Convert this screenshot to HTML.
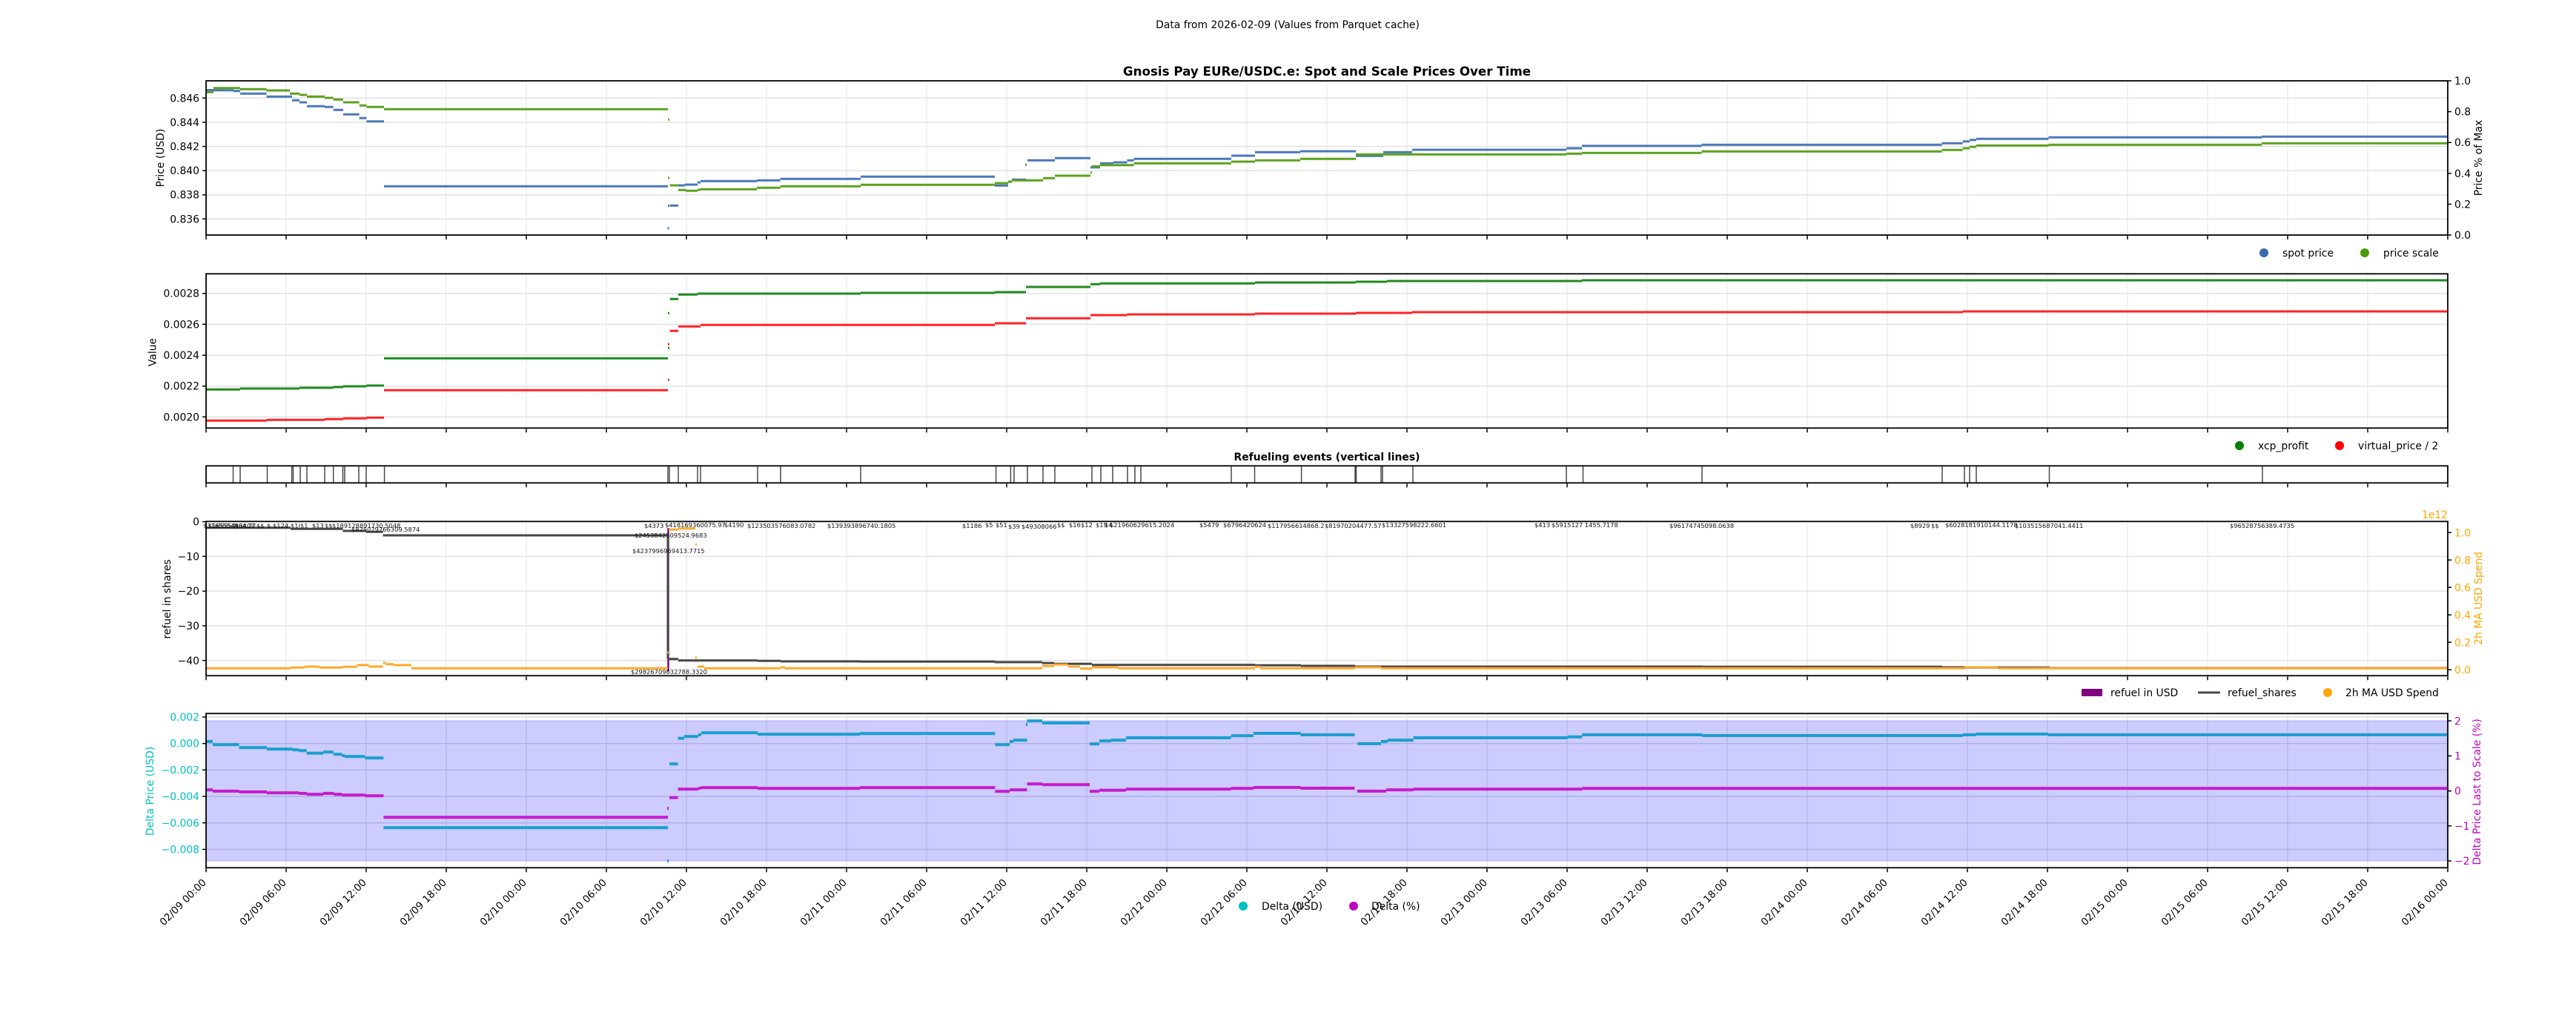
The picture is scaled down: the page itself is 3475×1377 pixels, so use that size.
<!DOCTYPE html>
<html><head><meta charset="utf-8"><style>
html,body{margin:0;padding:0;background:#fff;}
svg{display:block;font-family:"DejaVu Sans","Liberation Sans",sans-serif;}
.tl{font-size:13.9px;fill:#000;}
.an{font-size:8.3px;fill:#111;}
</style></head><body>
<svg width="3475" height="1377" viewBox="0 0 3475 1377" xmlns="http://www.w3.org/2000/svg">
<defs>
<pattern id="vg" x="277.5" y="0" width="108" height="20" patternUnits="userSpaceOnUse"><rect x="0" y="0" width="1" height="20" fill="#e4e4e4"/></pattern>
<pattern id="vg4" x="277.5" y="0" width="108" height="20" patternUnits="userSpaceOnUse"><rect x="0" y="0" width="1" height="20" fill="#dedede"/></pattern>
<pattern id="tk" x="277.25" y="0" width="108" height="20" patternUnits="userSpaceOnUse"><rect x="0" y="0" width="1.5" height="20" fill="#000"/></pattern>
</defs>
<rect width="3475" height="1377" fill="#fff"/>

<!-- titles -->
<text x="1737" y="38" text-anchor="middle" style="font-size:13.9px">Data from 2026-02-09 (Values from Parquet cache)</text>
<text x="1790" y="102" text-anchor="middle" style="font-size:16.7px;font-weight:bold">Gnosis Pay EURe/USDC.e: Spot and Scale Prices Over Time</text>
<text x="1790" y="621" text-anchor="middle" style="font-size:13.9px;font-weight:bold">Refueling events (vertical lines)</text>

<!-- ================= PANEL 1 ================= -->
<rect x="278" y="109" width="3024" height="208" fill="url(#vg)"/>
<path d="M278 132.3H3302M278 164.9H3302M278 197.5H3302M278 230.1H3302M278 262.7H3302M278 295.3H3302" stroke="#e2e2e2" stroke-width="1.5"/>
<path fill="none" stroke="#4a78b8" stroke-width="3" d="M278 121.5H288M288 121.7H315M315 122.7H324M324 126.3H359.5M359.5 130.3H394M394 135.3H404M404 138H414M414 143.3H438M438 144.3H449.7M449.7 148.3H463M463 154.3H484.7M484.7 159.3H494.4M494.4 163.7H518M518 251.3H901M903.7 277.3H915M915 250H924M924 249H941M941 246H945M945 244.3H1021M1021 243.3H1052.6M1052.6 241.3H1161M1161 238.3H1342M1342 250.3H1360M1360 245H1365M1365 242.3H1384M1386 216.3H1423M1423 213.3H1471M1471 225.7H1484M1484 220.3H1501.6M1501.6 219H1520.5M1520.5 216.3H1529.6M1529.6 214.3H1661M1661 210H1693M1693 205.3H1754M1754 204H1829M1829 210.3H1866M1866 205.3H1905M1905 202H2113M2113 200H2134M2134 196.7H2295.5M2295.5 195.3H2619.6M2619.6 193.3H2647.7M2647.7 190.7H2657M2657 188.7H2666M2666 187.3H2763.4M2763.4 185.3H3051M3051 184.3H3302M900.5 307.7H902.5M901 277.5H903M1383 222.3H1385"/>
<path fill="none" stroke="#5ca11e" stroke-width="3" d="M278 124.3H288M288 118.7H324M324 120.3H359.5M359.5 122H391M391 126.3H404M404 128H414M414 130.3H438M438 132H449.7M449.7 134.3H463M463 138H484.7M484.7 142.3H494.4M494.4 144.3H518M518 147.3H901M903.7 250H915M915 256.3H925M925 257.3H941M941 256H945M945 255.3H1021M1021 253.3H1052.6M1052.6 251.3H1161M1161 249.3H1342M1342 247H1360M1360 245.3H1365M1365 243.3H1407M1407 240.3H1423M1423 237H1471M1473 224.3H1484M1484 222.7H1529.6M1529.6 220.3H1661M1661 218H1693M1693 216.3H1754M1754 214.3H1829M1829 208.3H2113M2113 207.3H2134M2134 206.3H2295.5M2295.5 204.3H2619.6M2619.6 202.3H2647.7M2647.7 200H2657M2657 198H2666M2666 196.3H2763.4M2763.4 195.3H3051M3051 193.3H3302M901 161.3H903M901 240H903M1471 232.7H1473"/>
<rect x="278" y="109" width="3024" height="208" fill="none" stroke="#000" stroke-width="1.8"/>
<rect x="277" y="318" width="3027" height="5" fill="url(#tk)"/>
<path d="M273 132.3H278M273 164.9H278M273 197.5H278M273 230.1H278M273 262.7H278M273 295.3H278M3302 109H3307M3302 150.6H3307M3302 192.2H3307M3302 233.8H3307M3302 275.4H3307M3302 317H3307" stroke="#000" stroke-width="1.5"/>
<g class="tl" text-anchor="end">
<text x="269" y="137.3">0.846</text><text x="269" y="169.9">0.844</text><text x="269" y="202.5">0.842</text><text x="269" y="235.1">0.840</text><text x="269" y="267.7">0.838</text><text x="269" y="300.3">0.836</text>
</g>
<g class="tl">
<text x="3311" y="114">1.0</text><text x="3311" y="155.6">0.8</text><text x="3311" y="197.2">0.6</text><text x="3311" y="238.8">0.4</text><text x="3311" y="280.4">0.2</text><text x="3311" y="322">0.0</text>
</g>
<text class="tl" transform="translate(221,213) rotate(-90)" text-anchor="middle">Price (USD)</text>
<text class="tl" transform="translate(3348,213) rotate(-90)" text-anchor="middle">Price % of Max</text>
<circle cx="3054" cy="341" r="6" fill="#3a6aad"/><text class="tl" x="3079" y="346">spot price</text>
<circle cx="3190" cy="341" r="6" fill="#4c9a0a"/><text class="tl" x="3215" y="346">price scale</text>

<!-- ================= PANEL 2 ================= -->
<rect x="278" y="369.3" width="3024" height="208" fill="url(#vg)"/>
<path d="M278 395.7H3302M278 437.3H3302M278 479H3302M278 520.7H3302M278 562.3H3302" stroke="#e2e2e2" stroke-width="1.5"/>
<path fill="none" stroke="#1f8a1f" stroke-width="3" d="M278 525.3H324M324 524H404M404 523H449.7M449.7 522H463M463 521H494.4M494.4 520H518M518 483.3H901M903.7 403.3H915M915 397.3H941M941 396H1161M1161 395H1342M1342 394H1384M1384 387H1471M1471 383.3H1484M1484 382.3H1693M1693 381H1829M1829 380H1871M1871 379H2134M2134 378H3302M901 469.3H903M901 422.3H903"/>
<path fill="none" stroke="#ff2424" stroke-width="3" d="M278 567.3H359.5M359.5 566.3H438M438 565.3H463M463 564.3H494.4M494.4 563.3H518M518 526.3H901M903.7 446.3H915M915 440.3H945M945 438.3H1342M1342 436H1384M1384 429.3H1471M1471 425H1520.5M1520.5 424H1693M1693 423H1829M1829 422H1905M1905 421H2647.7M2647.7 420H3302M901 512.3H903M901 464.3H903"/>
<rect x="278" y="369.3" width="3024" height="208" fill="none" stroke="#000" stroke-width="1.8"/>
<rect x="277" y="578.3" width="3027" height="5" fill="url(#tk)"/>
<path d="M273 395.7H278M273 437.3H278M273 479H278M273 520.7H278M273 562.3H278" stroke="#000" stroke-width="1.5"/>
<g class="tl" text-anchor="end">
<text x="269" y="400.7">0.0028</text><text x="269" y="442.3">0.0026</text><text x="269" y="484">0.0024</text><text x="269" y="525.7">0.0022</text><text x="269" y="567.3">0.0020</text>
</g>
<text class="tl" transform="translate(210.5,475) rotate(-90)" text-anchor="middle">Value</text>
<circle cx="3021" cy="601" r="6" fill="#008000"/><text class="tl" x="3046" y="606">xcp_profit</text>
<circle cx="3156" cy="601" r="6" fill="#ff0000"/><text class="tl" x="3181" y="606">virtual_price / 2</text>

<!-- ================= STRIP ================= -->
<path fill="none" stroke="#4a4a4a" stroke-width="1.5" d="M314.5 628V651M324 628V651M360.5 628V651M393.6 628V651M395.5 628V651M405 628V651M414 628V651M438 628V651M449.7 628V651M462.5 628V651M465 628V651M484 628V651M494 628V651M518.6 628V651M901 628V651M903 628V651M915 628V651M941 628V651M945 628V651M1022 628V651M1053 628V651M1161 628V651M1343.6 628V651M1363.4 628V651M1368 628V651M1386 628V651M1407 628V651M1423 628V651M1473 628V651M1485 628V651M1501 628V651M1521 628V651M1531 628V651M1539 628V651M1661 628V651M1692.5 628V651M1755.6 628V651M1828 628V651M1829.5 628V651M1863 628V651M1865 628V651M1906 628V651M2113 628V651M2135.5 628V651M2296 628V651M2620 628V651M2650 628V651M2657 628V651M2666 628V651M2764.5 628V651M3052 628V651"/>
<rect x="278" y="628.3" width="3024" height="23" fill="none" stroke="#000" stroke-width="1.8"/>
<rect x="277" y="652.3" width="3027" height="5" fill="url(#tk)"/>

<!-- ================= PANEL 3 ================= -->
<rect x="278" y="703.3" width="3024" height="208" fill="url(#vg)"/>
<path d="M278 750.4H3302M278 797.2H3302M278 844H3302M278 890.8H3302" stroke="#e2e2e2" stroke-width="1.5"/>
<path fill="none" stroke="#800080" stroke-width="2.5" d="M901.5 712V905"/>
<path fill="none" stroke="#474747" stroke-width="3" d="M278 711.7H392M392 713.3H462.5M462.5 716H494M494 717.3H516.7M516.7 722H901V888.7M901 888.7H915M915 890.7H1022M1022 891.3H1053M1053 892H1160M1160 892.3H1342M1342 893H1406M1406 894.3H1422M1422 895.3H1473M1473 896.7H1693M1693 897.3H1755M1755 898H1828M1828 899H2296M2296 899.3H2620M2620 900H2650M2650 900.3H2765M2765 901H3302"/>
<path fill="none" stroke="#ffa82a" stroke-width="3" d="M278 901.3H392M392 900.3H411M411 899H431M431 900.3H462.5M462.5 899.3H481.6M481.6 897H497.6M497.6 899H516.7M516.7 894H520M520 895.7H530.7M530.7 897H555M555 901.3H901M902 714.3H915M915 712.7H938M941 899H950M950 901.3H1053M1053 900H1059M1059 901.3H1406M1406 898.3H1422M1422 896.3H1441M1441 899H1457M1457 901.7H1473M1473 900H1508M1508 901.3H1693M1693 899.3H1700M1700 901.3H1828M1828 900H1863M1863 901.3H2650M2650 900H2695M2695 901.3H3302M900 880H902M938 734.3H940M938 887H940"/>
<rect x="278" y="703.3" width="3024" height="208" fill="none" stroke="#000" stroke-width="1.8"/>
<rect x="277" y="912.3" width="3027" height="5" fill="url(#tk)"/>
<path d="M273 703.6H278M273 750.4H278M273 797.2H278M273 844H278M273 890.8H278M3302 903.3H3307M3302 866.3H3307M3302 829.3H3307M3302 792.3H3307M3302 755.3H3307M3302 718.3H3307" stroke="#000" stroke-width="1.5"/>
<g class="tl" text-anchor="end">
<text x="269" y="708.6">0</text><text x="269" y="755.4">−10</text><text x="269" y="802.2">−20</text><text x="269" y="849">−30</text><text x="269" y="895.8">−40</text>
</g>
<g class="tl" style="fill:#ffa500">
<text x="3311" y="908.3">0.0</text><text x="3311" y="871.3">0.2</text><text x="3311" y="834.3">0.4</text><text x="3311" y="797.3">0.6</text><text x="3311" y="760.3">0.8</text><text x="3311" y="723.3">1.0</text>
<text x="3302" y="699" text-anchor="end">1e12</text>
</g>
<text class="tl" transform="translate(230,808) rotate(-90)" text-anchor="middle">refuel in shares</text>
<text class="tl" transform="translate(3348,807) rotate(-90)" text-anchor="middle" style="fill:#ffa500">2h MA USD Spend</text>
<!-- annotations -->
<g class="an">
<text x="274" y="712">$3165554064.27</text>
<text x="281" y="712">$165554(</text>
<text x="317" y="712">$3407</text>
<text x="346" y="712">$$</text>
<text x="360" y="712">$</text>
<text x="368" y="712">$124</text>
<text x="392" y="712">$1(</text>
<text x="405" y="712">$1</text>
<text x="421" y="712">$13</text>
<text x="438" y="712">$$</text>
<text x="448" y="712">$189128891730.5048</text>
<text x="474" y="717">$825079766309.5874</text>
<text x="869" y="712">$4373</text>
<text x="897" y="711">$418169360075.97</text>
<text x="977" y="711">$4190</text>
<text x="1008" y="712">$123503576083.0782</text>
<text x="1116" y="712">$139393896740.1805</text>
<text x="856" y="725">$2453842509524.9683</text>
<text x="853" y="746">$4237996969413.7715</text>
<text x="851" y="909">$29826709832788.3320</text>
<text x="1298" y="712">$1186</text>
<text x="1329" y="711">$5</text>
<text x="1343" y="711">$51</text>
<text x="1360" y="713">$39</text>
<text x="1378" y="713">$49308066</text>
<text x="1426" y="711">$$</text>
<text x="1442" y="711">$16</text>
<text x="1458" y="711">$12</text>
<text x="1478" y="711">$19</text>
<text x="1490" y="711">$4</text>
<text x="1497" y="711">$21960629615.2024</text>
<text x="1618" y="711">$5479</text>
<text x="1650" y="711">$6796420624</text>
<text x="1710" y="712">$117956614868.2</text>
<text x="1787" y="712">$81970204477.57</text>
<text x="1864" y="711">$13327598222.6601</text>
<text x="2070" y="711">$413</text>
<text x="2093" y="711">$5915127 1455.7178</text>
<text x="2252" y="712">$96174745098.0638</text>
<text x="2577" y="712">$8929</text>
<text x="2605" y="712">$$</text>
<text x="2624" y="711">$6028181910144.1178</text>
<text x="2718" y="712">$103515687041.4411</text>
<text x="3008" y="712">$96528756389.4735</text>
</g>
<!-- legend 3 -->
<rect x="2808" y="929" width="28" height="10" fill="#800080"/><text class="tl" x="2847" y="939">refuel in USD</text>
<path d="M2965 934H2995" stroke="#474747" stroke-width="3"/><text class="tl" x="3005" y="939">refuel_shares</text>
<circle cx="3140" cy="934" r="6" fill="#ffa500"/><text class="tl" x="3164" y="939">2h MA USD Spend</text>

<!-- ================= PANEL 4 ================= -->
<rect x="278" y="962.3" width="3024" height="208" fill="url(#vg4)"/>
<path d="M278 967H3302M278 1002.7H3302M278 1038.4H3302M278 1074.1H3302M278 1109.8H3302M278 1145.5H3302" stroke="#dcdcdc" stroke-width="1.5"/>
<rect x="278" y="972" width="3024" height="189" fill="#0000ff" fill-opacity="0.2"/>
<path d="M278 972H3302M278 1161H3302" stroke="#8080ff" stroke-opacity="0.5" stroke-width="1"/>
<path fill="none" stroke="#1a9fd0" stroke-width="4" d="M278.5 1000H287M287 1004.3H322.5M322.5 1008.3H360M360 1010.3H394.6M394.6 1011.3H403M403 1012.3H413.7M413.7 1015.7H436M436 1014.3H450M450 1017.3H461M461 1019H465M465 1020.3H492.4M492.4 1022.3H517.3M517.3 1116.3H901M903 1030.3H914.5M914.5 995.7H923M923 993.3H942M942 991H946M946 988.3H1022M1022 990.3H1160M1160 989.3H1342.4M1342.4 1004.3H1362M1362 1000H1367M1367 998.3H1385.5M1385.5 972.3H1406M1406 975H1470M1470 1003.3H1483M1483 999.3H1499M1499 998.3H1519M1519 995H1660.7M1660.7 992.3H1691M1691 989H1754.6M1754.6 991H1827.4M1831.4 1003H1863M1863 1000H1872M1872 998.3H1906.8M1906.8 995H2114.6M2114.6 993.7H2134.4M2134.4 991H2296M2296 992H2648M2648 991H2666M2666 990H2763M2763 991H3302M900 1161.3H902M1384 977H1386"/>
<path fill="none" stroke="#c41ccc" stroke-width="4" d="M278.5 1065.3H287M287 1067H322.5M322.5 1068H360M360 1069.3H403M403 1070H413.7M413.7 1071.3H436M436 1070H450M450 1071.3H461M461 1072.3H492.4M492.4 1073.3H517.3M517.3 1102.3H901M903 1075.7H914.5M914.5 1064.3H942M942 1063H946M946 1062.3H1022M1022 1063.3H1160M1160 1062.3H1342.4M1342.4 1067.3H1362M1362 1065.3H1385.5M1385.5 1057.3H1406M1406 1058.3H1470M1470 1067.3H1483M1483 1065.7H1519M1519 1064.3H1660.7M1660.7 1063.3H1691M1691 1062H1754.6M1754.6 1063H1827.4M1831 1067H1870M1870 1065.3H1906.8M1906.8 1064.3H2134.4M2134.4 1063.3H3302M900 1090.3H902"/>
<rect x="278" y="962.3" width="3024" height="208" fill="none" stroke="#000" stroke-width="1.8"/>
<rect x="277" y="1171.3" width="3027" height="5" fill="url(#tk)"/>
<path d="M273 967H278M273 1002.7H278M273 1038.4H278M273 1074.1H278M273 1109.8H278M273 1145.5H278M3302 972.3H3307M3302 1019.5H3307M3302 1066.7H3307M3302 1113.9H3307M3302 1161.1H3307" stroke="#000" stroke-width="1.5"/>
<g class="tl" text-anchor="end" style="fill:#00bfbf">
<text x="269" y="972">0.002</text><text x="269" y="1007.7">0.000</text><text x="269" y="1043.4">−0.002</text><text x="269" y="1079.1">−0.004</text><text x="269" y="1114.8">−0.006</text><text x="269" y="1150.5">−0.008</text>
</g>
<g class="tl" style="fill:#bf00bf">
<text x="3311" y="977.3">2</text><text x="3311" y="1024.5">1</text><text x="3311" y="1071.7">0</text><text x="3311" y="1118.9">−1</text><text x="3311" y="1166.1">−2</text>
</g>
<text class="tl" transform="translate(207,1067) rotate(-90)" text-anchor="middle" style="fill:#00bfbf">Delta Price (USD)</text>
<text class="tl" transform="translate(3346,1068) rotate(-90)" text-anchor="middle" style="fill:#bf00bf">Delta Price Last to Scale (%)</text>

<!-- x tick labels -->
<g class="tl" text-anchor="end" style="font-size:13.5px">
<text transform="translate(279,1191) rotate(-45)">02/09 00:00</text>
<text transform="translate(387,1191) rotate(-45)">02/09 06:00</text>
<text transform="translate(495,1191) rotate(-45)">02/09 12:00</text>
<text transform="translate(603,1191) rotate(-45)">02/09 18:00</text>
<text transform="translate(711,1191) rotate(-45)">02/10 00:00</text>
<text transform="translate(819,1191) rotate(-45)">02/10 06:00</text>
<text transform="translate(927,1191) rotate(-45)">02/10 12:00</text>
<text transform="translate(1035,1191) rotate(-45)">02/10 18:00</text>
<text transform="translate(1143,1191) rotate(-45)">02/11 00:00</text>
<text transform="translate(1251,1191) rotate(-45)">02/11 06:00</text>
<text transform="translate(1359,1191) rotate(-45)">02/11 12:00</text>
<text transform="translate(1467,1191) rotate(-45)">02/11 18:00</text>
<text transform="translate(1575,1191) rotate(-45)">02/12 00:00</text>
<text transform="translate(1683,1191) rotate(-45)">02/12 06:00</text>
<text transform="translate(1791,1191) rotate(-45)">02/12 12:00</text>
<text transform="translate(1899,1191) rotate(-45)">02/12 18:00</text>
<text transform="translate(2007,1191) rotate(-45)">02/13 00:00</text>
<text transform="translate(2115,1191) rotate(-45)">02/13 06:00</text>
<text transform="translate(2223,1191) rotate(-45)">02/13 12:00</text>
<text transform="translate(2331,1191) rotate(-45)">02/13 18:00</text>
<text transform="translate(2439,1191) rotate(-45)">02/14 00:00</text>
<text transform="translate(2547,1191) rotate(-45)">02/14 06:00</text>
<text transform="translate(2655,1191) rotate(-45)">02/14 12:00</text>
<text transform="translate(2763,1191) rotate(-45)">02/14 18:00</text>
<text transform="translate(2871,1191) rotate(-45)">02/15 00:00</text>
<text transform="translate(2979,1191) rotate(-45)">02/15 06:00</text>
<text transform="translate(3087,1191) rotate(-45)">02/15 12:00</text>
<text transform="translate(3195,1191) rotate(-45)">02/15 18:00</text>
<text transform="translate(3303,1191) rotate(-45)">02/16 00:00</text>
</g>
<!-- legend 4 -->
<circle cx="1677" cy="1222" r="6" fill="#00bfbf"/><text class="tl" x="1702" y="1227">Delta (USD)</text>
<circle cx="1826" cy="1222" r="6" fill="#bf00bf"/><text class="tl" x="1850" y="1227">Delta (%)</text>
</svg>
</body></html>
